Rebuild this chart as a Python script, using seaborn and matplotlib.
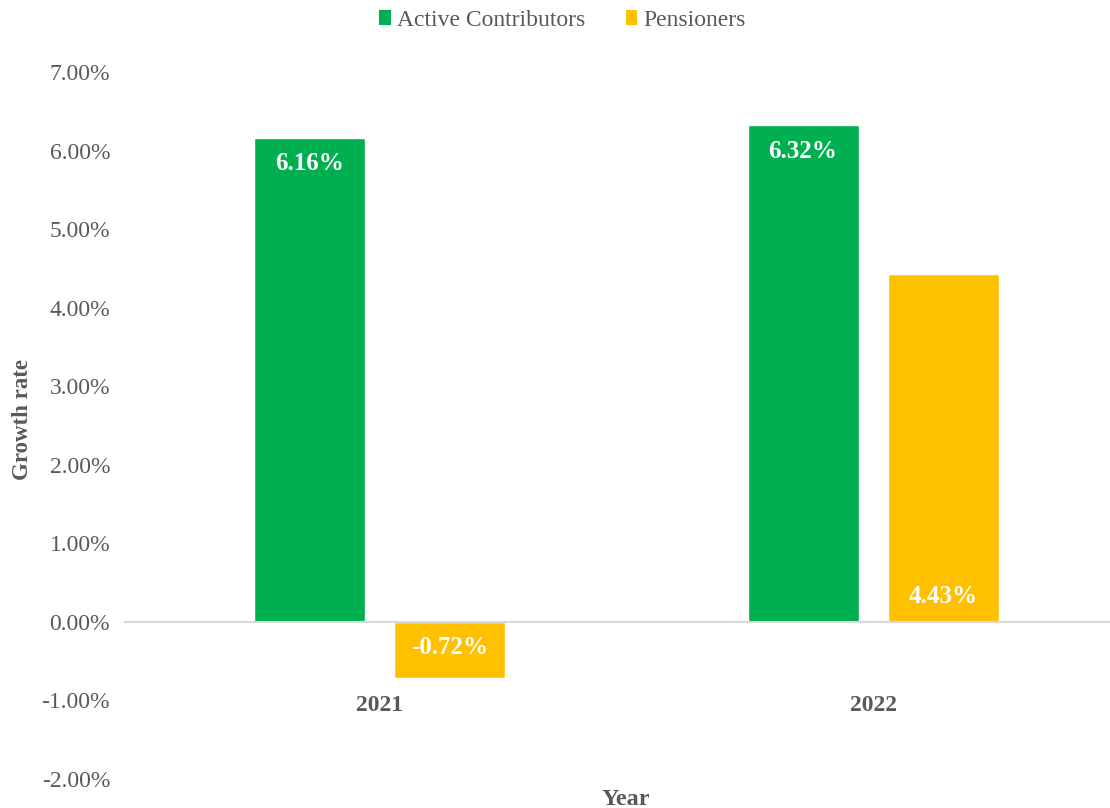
import matplotlib
matplotlib.use("Agg")
import matplotlib.pyplot as plt
from matplotlib.patches import Patch
import matplotlib.transforms as mtransforms
import pandas as pd
import seaborn as sns

# Growth rates (%) by year
years = ["2021", "2022"]
series_names = ["Active Contributors", "Pensioners"]
active_contributors = [6.16, 6.32]
pensioners = [-0.72, 4.43]
y_ticks = [-2, -1, 0, 1, 2, 3, 4, 5, 6, 7]

colors = {"Active Contributors": "#00B050", "Pensioners": "#FFC000"}
text_gray = "#595959"

sns.set_theme(style="white")
plt.rcParams["font.family"] = ["Liberation Serif", "DejaVu Serif"]

df = pd.DataFrame({
    "Year": years * 2,
    "Series": [series_names[0]] * len(years) + [series_names[1]] * len(years),
    "Growth": active_contributors + pensioners,
})

fig = plt.figure(figsize=(11.1, 8.08), dpi=100)
ax = fig.add_axes([124 / 1110, 29 / 808, 986 / 1110, 707 / 808])

sns.barplot(data=df, x="Year", y="Growth", hue="Series", order=years,
            hue_order=series_names, palette=colors, width=0.568, gap=0.208,
            saturation=1, errorbar=None, legend=False, ax=ax, zorder=2)

ax.set_xlim(-0.518, 1.48)
ax.set_ylim(y_ticks[0], y_ticks[-1])
ax.axhline(0, color="#D9D9D9", lw=1.5, zorder=3)

for s in ax.spines.values():
    s.set_visible(False)

ax.set_yticks(y_ticks)
ax.set_yticklabels([f"{v:.2f}%" for v in y_ticks], color=text_gray, fontsize=17)
ax.tick_params(axis="y", length=0, pad=10)
ax.set_xticks([])

# Category labels sit just under the negative bar
for i, yr in enumerate(years):
    ax.text(i, -1.06, yr, ha="center", va="center", fontsize=17,
            fontweight="bold", color=text_gray)

ax.set_ylabel("Growth rate", fontsize=16.5, fontweight="bold", color=text_gray)
ax.yaxis.set_label_coords((33 - 124) / 986, 0.508)
ax.set_xlabel("Year", fontsize=17.5, fontweight="bold", color=text_gray)
ax.xaxis.set_label_coords(0.509, -0.014)

# Value labels: contributors at the bar end, pensioners at the bar base
for series, container in zip(series_names, ax.containers):
    for bar in container:
        val = bar.get_height()
        xc = bar.get_x() + bar.get_width() / 2
        if series == "Active Contributors":
            y, dy = val, -26
        else:
            y, dy = 0, (25 if val >= 0 else -26)
        tr = mtransforms.offset_copy(ax.transData, fig=fig, x=0, y=dy, units="dots")
        ax.text(xc, y, f"{val:.2f}%", transform=tr, ha="center", va="center",
                fontsize=18, fontweight="bold", color="white", zorder=4)

handles = [Patch(facecolor=colors[n], edgecolor="none") for n in series_names]
fig.legend(handles, series_names, loc="center", bbox_to_anchor=(562.5 / 1110, 1 - 20 / 808),
           ncol=2, frameon=False, fontsize=17, handlelength=0.5, handleheight=0.6,
           handletextpad=0.25, columnspacing=1.7, labelcolor=text_gray,
           borderpad=0, borderaxespad=0)

fig.savefig("out.png", dpi=100, facecolor="white")
